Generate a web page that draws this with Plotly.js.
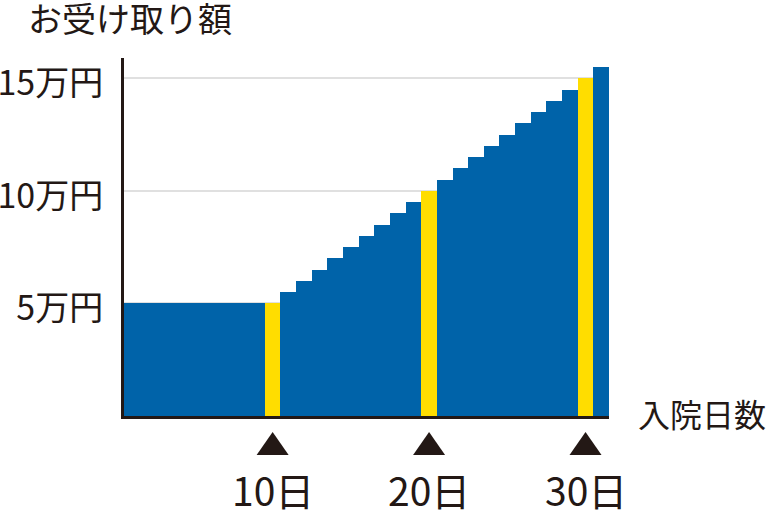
<!DOCTYPE html>
<html>
<head>
<meta charset="utf-8">
<script src="https://cdn.plot.ly/plotly-3.0.1.min.js"></script>
<style>html,body{margin:0;padding:0;background:#fff;}#chart{width:768px;height:511px;}</style>
</head>
<body>
<div id="chart"></div>
<script>
// Data
const days = [1,2,3,4,5,6,7,8,9,10,11,12,13,14,15,16,17,18,19,20,21,22,23,24,25,26,27,28,29,30,31];
const amounts = [5,5,5,5,5,5,5,5,5,5,5.5,6,6.5,7,7.5,8,8.5,9,9.5,10,10.5,11,11.5,12,12.5,13,13.5,14,14.5,15,15.5]; // 万円
const markedDays = [10,20,30];
const markedLabels = ['10日','20日','30日'];
const yTickVals = [5,10,15];
const yTickText = ['5万円','10万円','15万円'];
const titleText = 'お受け取り額';
const xTitleText = '入院日数';

const BLUE = '#0063a9', YELLOW = '#ffdd00', INK = '#231815';
const FONT = '"Noto Sans CJK JP", "Noto Sans", sans-serif';

const colors = days.map(d => markedDays.includes(d) ? YELLOW : BLUE);

const traces = [
  {
    type: 'bar', x: days, y: amounts, width: 1,
    marker: {color: colors, line: {width: 0}},
    hoverinfo: 'skip'
  }
];

// triangle markers under the highlighted days (pixel-sized shapes anchored at each day)
const shapes = markedDays.map(d => ({
  type: 'path', xref: 'x', yref: 'paper', xsizemode: 'pixel', ysizemode: 'pixel',
  xanchor: d, yanchor: 0,
  path: 'M -16,-39 L 16,-39 L 0,-16 Z',
  fillcolor: INK, line: {width: 0}, layer: 'above'
}));

const annotations = markedDays.map((d, i) => ({
  x: d, xref: 'x', y: -0.205, yref: 'paper', yanchor: 'middle', xanchor: 'center',
  text: markedLabels[i], showarrow: false, font: {family: FONT, size: 39, color: INK}
}));
annotations.push({
  x: 1.192, xref: 'paper', y: 0.008, yref: 'paper', xanchor: 'center', yanchor: 'middle',
  text: xTitleText, showarrow: false, font: {family: FONT, size: 32, color: INK}
});

const layout = {
  width: 768, height: 511,
  margin: {l: 124, r: 159, t: 58, b: 95},
  paper_bgcolor: '#fff', plot_bgcolor: '#fff',
  showlegend: false,
  bargap: 0,
  title: {text: titleText, x: 28/768, xanchor: 'left', xref: 'container', y: 1 - 20/511, yanchor: 'middle', yref: 'container',
          font: {family: FONT, size: 34, color: INK}},
  xaxis: {range: [0.5, 31.5], showline: true, linewidth: 3, linecolor: INK, showgrid: false,
          showticklabels: false, ticks: '', zeroline: false, fixedrange: true},
  yaxis: {range: [0, 15.9], showline: true, linewidth: 3, linecolor: INK, showgrid: true,
          gridcolor: '#e0e0e0', gridwidth: 2, tickvals: yTickVals, ticktext: yTickText,
          ticks: '', ticklabelstandoff: 11, ticklabelshift: 5, zeroline: false, fixedrange: true,
          tickfont: {family: FONT, size: 34, color: INK}},
  shapes: shapes,
  annotations: annotations
};

Plotly.newPlot('chart', traces, layout, {displayModeBar: false, staticPlot: true});
</script>
</body>
</html>
